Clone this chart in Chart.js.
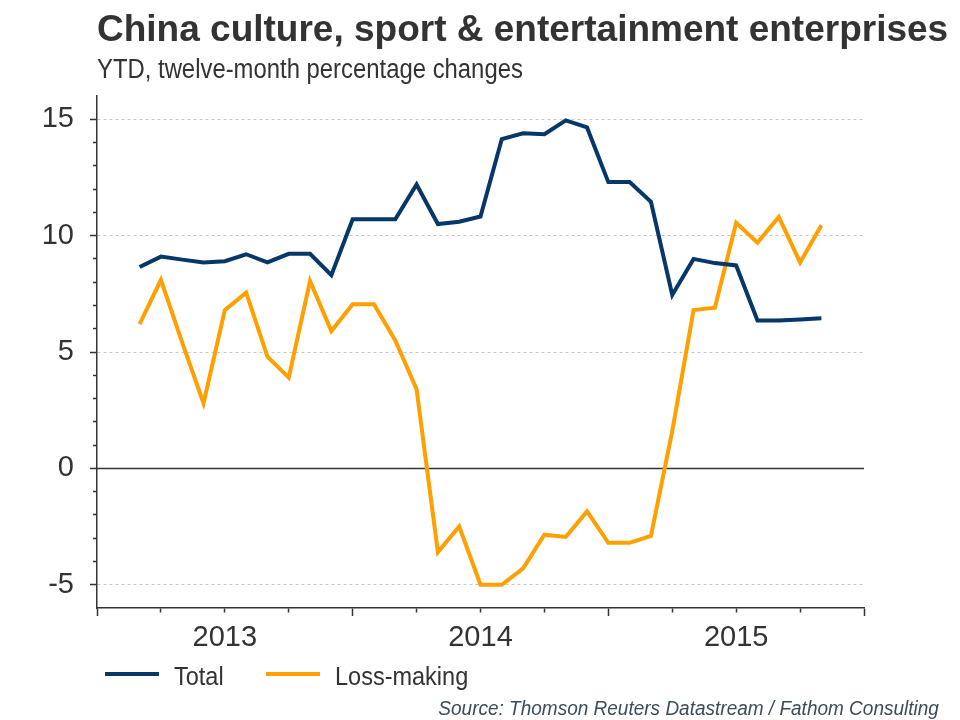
<!DOCTYPE html>
<html>
<head>
<meta charset="utf-8">
<script src="https://cdn.jsdelivr.net/npm/chart.js@4.4.1/dist/chart.umd.min.js"></script>
<style>
  html, body { margin: 0; padding: 0; background: #fff; }
  #wrap { position: relative; width: 960px; height: 720px; font-family: "Liberation Sans", Arial, sans-serif; color: #333; }
  #chart { position: absolute; left: 0; top: 0; }
  .txt { position: absolute; white-space: nowrap; }
  #title { left: 97px; top: 10px; font-size: 37px; line-height: 37px; font-weight: bold; color: #333; }
  #subtitle { left: 97px; top: 56px; font-size: 27px; line-height: 27px; transform: scaleX(0.884); transform-origin: left top; color: #333; }
  #legend { position: absolute; left: 0; top: 0; }
  .key { position: absolute; height: 4px; top: 672px; }
  .lab { font-size: 25px; line-height: 25px; top: 664px; transform: scaleX(0.94); transform-origin: left top; color: #333; }
  #source { right: 21px; top: 698px; font-size: 20px; line-height: 20px; font-style: italic; color: #3b4d59; transform: scaleX(0.95); transform-origin: right top; }
</style>
</head>
<body>
<div id="wrap">
  <canvas id="chart" width="960" height="720"></canvas>
  <div class="txt" id="title">China culture, sport &amp; entertainment enterprises</div>
  <div class="txt" id="subtitle">YTD, twelve-month percentage changes</div>
  <div id="legend"></div>
  <div class="txt" id="source">Source: Thomson Reuters Datastream / Fathom Consulting</div>
</div>
<script>
// month-end observations, Feb 2013 .. Oct 2015
const MONTHS = [
  '2013-02', '2013-03', '2013-04', '2013-05', '2013-06', '2013-07', '2013-08', '2013-09', '2013-10', '2013-11', '2013-12',
  '2014-01', '2014-02', '2014-03', '2014-04', '2014-05', '2014-06', '2014-07', '2014-08', '2014-09', '2014-10', '2014-11', '2014-12',
  '2015-01', '2015-02', '2015-03', '2015-04', '2015-05', '2015-06', '2015-07', '2015-08', '2015-09', '2015-10',
];
const TOTAL = [
  8.65, 9.1, 8.97, 8.85, 8.9, 9.2, 8.85, 9.22, 9.22, 8.3, 10.7,
  10.7, 10.7, 12.2, 10.5, 10.6, 10.82, 14.15, 14.4, 14.36, 14.95, 14.65, 12.3,
  12.3, 11.45, 7.45, 9.0, 8.82, 8.72, 6.35, 6.35, 6.4, 6.45,
];
const LOSS_MAKING = [
  6.2, 8.1, 5.4, 2.8, 6.8, 7.55, 4.8, 3.9, 8.05, 5.9, 7.05,
  7.05, 5.5, 3.4, -3.6, -2.5, -5.0, -5.0, -4.3, -2.85, -2.95, -1.85, -3.2,
  -3.2, -2.9, 1.6, 6.8, 6.9, 10.55, 9.7, 10.8, 8.85, 10.45,
];
const SERIES_NAMES = ['Total', 'Loss-making'];
const SERIES_COLORS = ['#053769', '#ff9f00'];
const YEARS = ['2013', '2014', '2015'];
const Y_LABELS = [-5, 0, 5, 10, 15];

const START_YEAR = +YEARS[0];
// x = months elapsed since 1 Jan of the first year (month-end position)
function monthPos(s) {
  const [y, m] = s.split('-').map(Number);
  return (y - START_YEAR) * 12 + m;
}
const toPoints = (vals) => vals.map((v, i) => ({ x: monthPos(MONTHS[i]), y: v }));

const AXIS = '#333';
const FONT = "'Liberation Sans', Arial, sans-serif";

const zeroLine = {
  id: 'zeroLine',
  beforeDatasetsDraw(chart) {
    const { ctx, chartArea, scales } = chart;
    const y = Math.round(scales.y.getPixelForValue(0)) + 0.5;
    ctx.save();
    ctx.strokeStyle = AXIS;
    ctx.lineWidth = 1.5;
    ctx.beginPath();
    ctx.moveTo(chartArea.left, y);
    ctx.lineTo(chartArea.right, y);
    ctx.stroke();
    ctx.restore();
  },
};

new Chart(document.getElementById('chart').getContext('2d'), {
  type: 'line',
  data: {
    datasets: [
      { label: SERIES_NAMES[0], data: toPoints(TOTAL), borderColor: SERIES_COLORS[0], borderWidth: 4, pointRadius: 0, tension: 0 },
      { label: SERIES_NAMES[1], data: toPoints(LOSS_MAKING), borderColor: SERIES_COLORS[1], borderWidth: 4, pointRadius: 0, tension: 0 },
    ],
  },
  options: {
    responsive: false, animation: false,
    layout: { padding: { left: 20, right: 96, top: 96, bottom: 52 } },
    plugins: { legend: { display: false }, tooltip: { enabled: false } },
    scales: {
      x: {
        type: 'linear', min: 0, max: YEARS.length * 12,
        afterFit: (s) => { s.height = 60; },
        border: { color: AXIS, width: 1.5 },
        grid: {
          drawOnChartArea: false, tickLength: 8, tickColor: AXIS, tickWidth: 1.5,
          tickBorderDash: (c) => (c.tick && c.tick.value % 12 === 0 ? [] : [4, 20]),
        },
        ticks: {
          stepSize: 3, autoSkip: false, maxRotation: 0, padding: 5,
          color: AXIS, font: { family: FONT, size: 29 },
          callback: (v) => (v % 12 === 6 ? YEARS[(v - 6) / 12] : ''),
        },
      },
      y: {
        type: 'linear', min: -6, max: 16,
        afterFit: (s) => { s.width = 77; },
        border: { color: AXIS, width: 1.5, dash: [3, 3] },
        grid: {
          lineWidth: 1,
          color: (c) => (c.tick && c.tick.value % 5 === 0 && c.tick.value !== 0 ? '#c6c6c6' : 'rgba(0,0,0,0)'),
          tickLength: 7, tickWidth: 1.5,
          tickColor: (c) => (c.tick && (c.tick.value === -6 || c.tick.value === 16) ? 'rgba(0,0,0,0)' : AXIS),
          tickBorderDash: (c) => (c.tick && c.tick.value % 5 === 0 ? [] : [4, 3]),
          tickBorderDashOffset: (c) => (c.tick && c.tick.value % 5 === 0 ? 0 : 4),
        },
        ticks: {
          stepSize: 1, autoSkip: false, padding: 16,
          color: AXIS, font: { family: FONT, size: 29 },
          callback: (v) => (Y_LABELS.includes(v) ? String(v) : ''),
        },
      },
    },
  },
  plugins: [zeroLine],
});

// legend built from the series names/colours
const legend = document.getElementById('legend');
const KEY_X = [105, 266];
SERIES_NAMES.forEach((name, i) => {
  const key = document.createElement('div');
  key.className = 'key';
  key.style.left = KEY_X[i] + 'px';
  key.style.width = '54px';
  key.style.background = SERIES_COLORS[i];
  legend.appendChild(key);
  const lab = document.createElement('div');
  lab.className = 'txt lab';
  lab.style.left = (KEY_X[i] + 69) + 'px';
  lab.textContent = name;
  legend.appendChild(lab);
});
</script>
</body>
</html>
